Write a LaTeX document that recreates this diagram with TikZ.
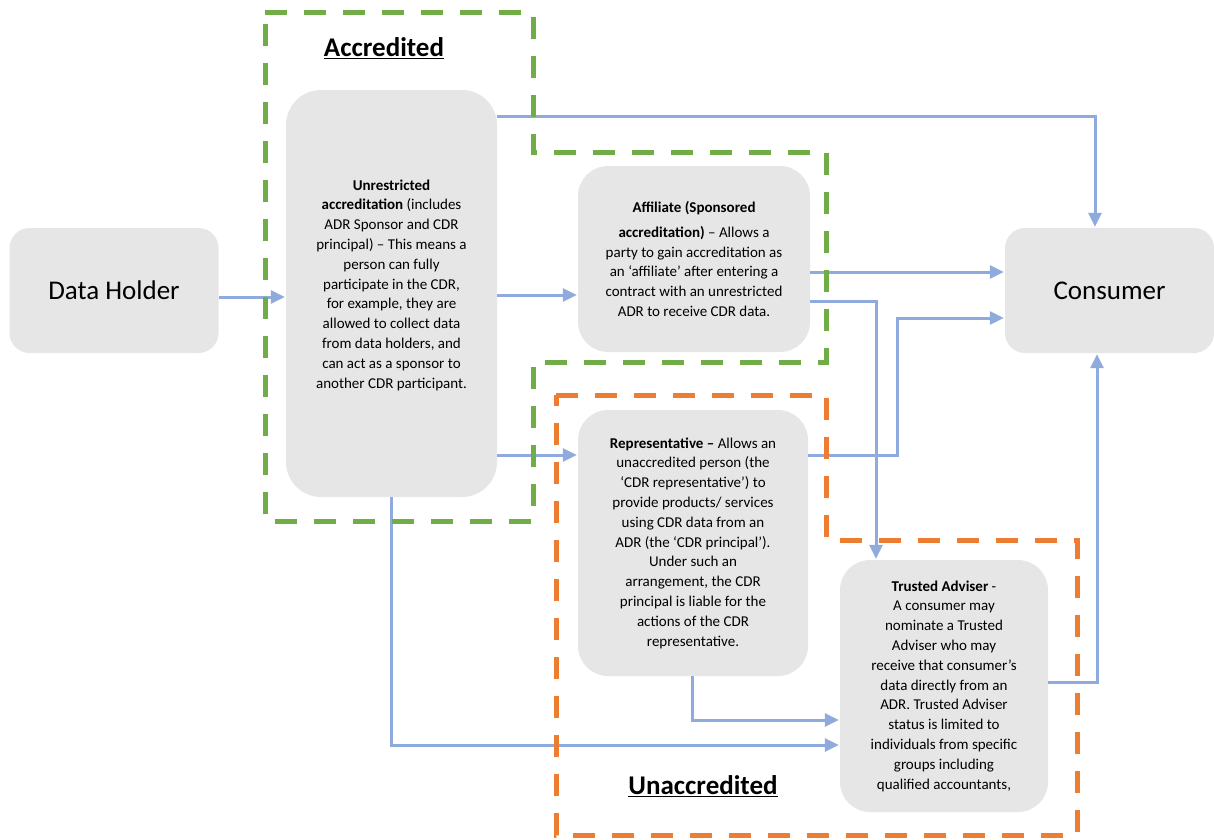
\documentclass[tikz,border=0pt]{standalone}
\usepackage{fontspec}
\setmainfont{Carlito}
\usetikzlibrary{arrows.meta}
\definecolor{boxgray}{RGB}{230,230,230}
\definecolor{arrblue}{RGB}{143,170,220}
\definecolor{accgreen}{RGB}{112,173,71}
\definecolor{unorange}{RGB}{237,125,49}
\begin{document}
\begin{tikzpicture}[x=1pt,y=-1pt,
  box/.style={fill=boxgray, draw=none, inner sep=0pt, align=center,
    font=\fontsize{15}{19.8}\selectfont},
  boxtext/.style={inner sep=0pt, align=center, font=\fontsize{15}{19.8}\selectfont},
  bigbox/.style={fill=boxgray, draw=none, inner sep=0pt, align=center,
    font=\fontsize{27}{30}\selectfont, rounded corners=20pt,
    minimum width=209pt, minimum height=125pt},
  arr/.style={draw=arrblue, line width=3pt, line join=miter,
    -{Triangle[length=14pt,width=13pt]}, shorten >=1pt},
  zone/.style={line width=5pt, dash pattern=on 22pt off 17pt, line join=miter},
  title/.style={font=\fontsize{27}{30}\selectfont\bfseries, inner sep=0pt}]
\useasboundingbox (0,0) rectangle (1214,839);
% boxes
\node[bigbox] (dh) at (114,290.5) {Data Holder};
\node[bigbox] (co) at (1109.5,290.5) {Consumer};
\node[box, rounded corners=35pt, minimum width=211pt, minimum height=407pt] (ur) at (391.5,293.5) {};
\node[boxtext] (urtext) at (391.5,285)
 {\textbf{Unrestricted}\\ \textbf{accreditation} (includes\\ ADR Sponsor and CDR\\ principal) – This means a\\ person can fully\\ participate in the CDR,\\ for example, they are\\ allowed to collect data\\ from data holders, and\\ can act as a sponsor to\\ another CDR participant.};
\node[box, rounded corners=30pt, minimum width=232pt, minimum height=186pt] (af) at (694,259)
 {\textbf{Affiliate (Sponsored}\\[5pt] \textbf{accreditation)} – Allows a\\ party to gain accreditation as\\ an ‘affiliate’ after entering a\\ contract with an unrestricted\\ ADR to receive CDR data.};
\node[box, rounded corners=30pt, minimum width=230pt, minimum height=266pt] (rp) at (693,543)
 {\textbf{Representative –} Allows an\\ unaccredited person (the\\ ‘CDR representative’) to\\ provide products/ services\\ using CDR data from an\\ ADR (the ‘CDR principal’).\\ Under such an\\ arrangement, the CDR\\ principal is liable for the\\ actions of the CDR\\ representative.};
\node[box, rounded corners=30pt, minimum width=208pt, minimum height=252pt] (ta) at (944,686)
 {\textbf{Trusted Adviser} -\\ A consumer may\\ nominate a Trusted\\ Adviser who may\\ receive that consumer’s\\ data directly from an\\ ADR. Trusted Adviser\\ status is limited to\\ individuals from specific\\ groups including\\ qualified accountants,};
% helper levels
\coordinate (l116) at (0,116);
\coordinate (l272) at (0,272);
\coordinate (l295) at (0,295);
\coordinate (l297) at (0,297);
\coordinate (l301) at (0,301);
\coordinate (l318) at (0,318);
\coordinate (l455) at (0,455);
\coordinate (l682) at (0,682);
\coordinate (l720) at (0,720);
\coordinate (l745) at (0,745);
\coordinate (c391) at (391,0);
\coordinate (c692) at (692,0);
\coordinate (c876) at (876,0);
\coordinate (c897) at (897,0);
\coordinate (c1095) at (1095,0);
\coordinate (c1097) at (1097,0);
% connectors
\draw[arr] (dh.east |- l297) -- (ur.west |- l297);
\draw[arr] (ur.east |- l116) -| (c1095 |- co.north);
\draw[arr] (ur.east |- l295) -- (af.west |- l295);
\draw[arr] (ur.east |- l455) -- (rp.west |- l455);
\draw[arr] (af.east |- l272) -- (co.west |- l272);
\draw[arr] (af.east |- l301) -| (c876 |- ta.north);
\draw[arr] (rp.east |- l455) -| (c897 |- l318) -- (co.west |- l318);
\draw[arr] (ta.east |- l682) -| (c1097 |- co.south);
\draw[arr] (c692 |- rp.south) |- (ta.west |- l720);
\draw[arr] (c391 |- ur.south) |- (ta.west |- l745);
% zones
\draw[zone, draw=accgreen] (265,12) -- (533,12) -- (533,152) -- (826,152) -- (826,362)
  -- (533,362) -- (533,521) -- (265,521) -- cycle;
\draw[zone, draw=unorange] (556,395) -- (826,395) -- (826,540) -- (1077,540) -- (1077,835)
  -- (556,835) -- cycle;
\node[title] (acc) at (384,48) {\underline{Accredited}};
\node[title] (unacc) at (703,786) {\underline{Unaccredited}};
\end{tikzpicture}
\end{document}
